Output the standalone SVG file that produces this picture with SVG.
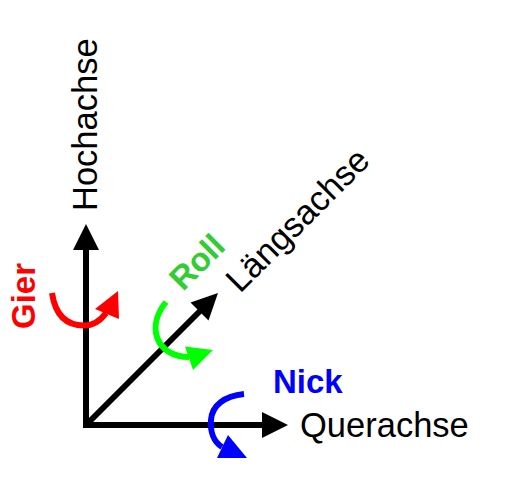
<svg xmlns="http://www.w3.org/2000/svg" width="518" height="498" viewBox="0 0 518 498">
<style>
.axis{stroke:#000;stroke-width:6;fill:none}
.head{fill:#000}
.lbl{font-family:"Liberation Sans",Arial,sans-serif;font-size:34.5px;fill:#000}
.rot{font-family:"Liberation Sans",Arial,sans-serif;font-size:33px;font-weight:bold}
.curve{fill:none;stroke-width:6}
</style>
<rect width="518" height="498" fill="#fff"/>
<g id="connectors">
<path class="axis" d="M86,249 V428 M83,425 H263 M86,425 L201,310"/>
<polygon class="head" points="86,224 73,250 99,250"/>
<polygon class="head" points="288,425 262,412 262,438"/>
<polygon class="head" points="218,293 190.5,302.5 208.5,320.5"/>
</g>
<g id="hochachse"><text class="lbl" transform="translate(97,211) rotate(-90)">Hochachse</text></g>
<g id="querachse"><text class="lbl" x="300" y="437">Querachse</text></g>
<g id="laengsachse"><text class="lbl" transform="translate(240,294) rotate(-45)">Längsachse</text></g>
<g id="gier">
<text class="rot" fill="#ff0000" transform="translate(35,329) rotate(-90)">Gier</text>
<path class="curve" stroke="#ff0000" stroke-width="5" d="M52,293 C55,313 65,325.5 84,325.5 C95,325.5 101,320 106,313"/>
<polygon fill="#ff0000" points="118,291 95,309 119,319"/>
</g>
<g id="roll">
<text class="rot" fill="#33cc33" transform="translate(183,292) rotate(-45)">Roll</text>
<path class="curve" stroke="#00ff00" d="M166,302 C158,312 153,325 157,337 C161,350 174,357 189,357"/>
<polygon fill="#00ff00" points="213,350 185,346.5 193,370"/>
</g>
<g id="nick">
<text class="rot" fill="#0000ff" x="273" y="393">Nick</text>
<path class="curve" stroke="#0000ff" d="M244,394 C225,396 212,405 211,420 C210,432 214,442 222,447"/>
<polygon fill="#0000ff" points="228,435 217,458 247,458"/>
</g>
</svg>
